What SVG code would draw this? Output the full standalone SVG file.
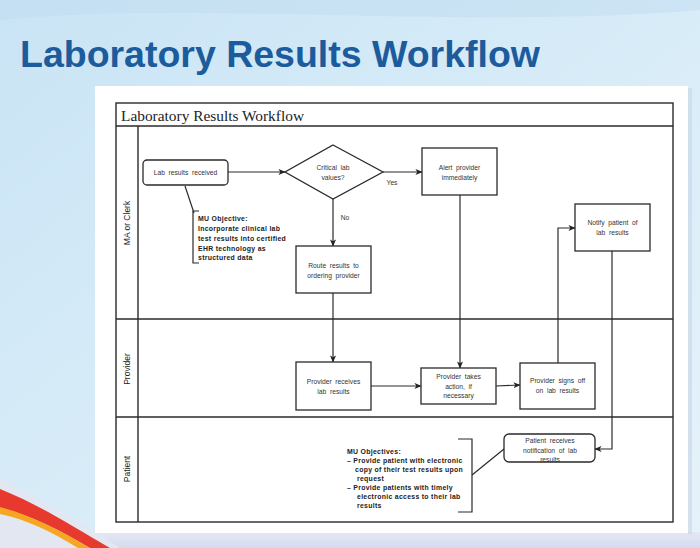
<svg xmlns="http://www.w3.org/2000/svg" width="700" height="548" viewBox="0 0 700 548">
<defs>
<linearGradient id="bg" x1="0" y1="0" x2="1" y2="1">
<stop offset="0" stop-color="#c9e4f5"/>
<stop offset="0.5" stop-color="#d8ecf8"/>
<stop offset="1" stop-color="#e6f2fa"/>
</linearGradient>
<linearGradient id="bot" x1="0" y1="0" x2="0" y2="1">
<stop offset="0" stop-color="#e4e8f4"/>
<stop offset="1" stop-color="#d5dbee"/>
</linearGradient>
<marker id="ah" viewBox="0 0 8 8" refX="7.5" refY="4" markerWidth="7" markerHeight="7" markerUnits="userSpaceOnUse" orient="auto">
<path d="M0,0.5 L8,4 L0,7.5 L2.2,4 z" fill="#222"/>
</marker>
<style>
.box{fill:#fff;stroke:#2a2a2a;stroke-width:1.3}
.ln{fill:none;stroke:#2a2a2a;stroke-width:1.2}
.frame{fill:none;stroke:#2a2a2a;stroke-width:1.4}
.t{font-family:"Liberation Sans",Arial,sans-serif;font-size:6.7px;fill:#333;text-anchor:middle;word-spacing:1.8px}
.mu{font-family:"Liberation Sans",Arial,sans-serif;font-size:6.9px;font-weight:bold;fill:#222;letter-spacing:0.3px}
.lane{font-family:"Liberation Sans",Arial,sans-serif;font-size:8.5px;fill:#222;text-anchor:middle}
</style>
</defs>
<rect width="700" height="548" fill="url(#bg)"/>
<path d="M0,20 C200,0 450,30 700,10 L700,0 L0,0 z" fill="#bfdcf0" opacity="0.5"/>
<rect x="0" y="532" width="700" height="16" fill="url(#bot)"/>
<path d="M0,478 C40,500 80,520 120,548 L0,548 z" fill="#e3e7f2"/>
<path d="M0,489 C40,505 70,525 110,548 L90,548 C60,530 30,515 0,508 z" fill="#e8392f"/>
<path d="M0,507 C30,515 60,530 90,548 L78,548 C52,532 28,520 0,514 z" fill="#f5a623"/>
<text x="20" y="67" font-family="'Liberation Sans',Arial,sans-serif" font-weight="bold" font-size="37.5" fill="#1c5b9c" textLength="520" lengthAdjust="spacingAndGlyphs">Laboratory Results Workflow</text>
<rect x="688" y="88" width="4" height="446" fill="#c8d6e6" opacity="0.6"/>
<rect x="95" y="86" width="593" height="447" fill="#fff"/>
<g id="frame">
<rect class="frame" x="116" y="103" width="557" height="419"/>
<line class="frame" x1="116" y1="126" x2="673" y2="126"/>
<line class="frame" x1="138" y1="126" x2="138" y2="522"/>
<line class="frame" x1="116" y1="319" x2="673" y2="319"/>
<line class="frame" x1="116" y1="417" x2="673" y2="417"/>
<text x="121" y="121" font-family="'Liberation Serif','Times New Roman',serif" font-size="15.5" fill="#222" textLength="183" lengthAdjust="spacingAndGlyphs">Laboratory Results Workflow</text>
<text class="lane" transform="translate(130,223) rotate(-90)">MA or Clerk</text>
<text class="lane" transform="translate(130,369) rotate(-90)">Provider</text>
<text class="lane" transform="translate(130,469) rotate(-90)">Patient</text>
</g>
<g id="connectors">
<line class="ln" x1="228" y1="172" x2="285" y2="172" marker-end="url(#ah)"/>
<line class="ln" x1="383" y1="172" x2="422" y2="172" marker-end="url(#ah)"/>
<line class="ln" x1="333" y1="199" x2="333" y2="246" marker-end="url(#ah)"/>
<line class="ln" x1="333" y1="293" x2="333" y2="362" marker-end="url(#ah)"/>
<line class="ln" x1="460" y1="195" x2="460" y2="368" marker-end="url(#ah)"/>
<line class="ln" x1="371" y1="386" x2="421" y2="386" marker-end="url(#ah)"/>
<line class="ln" x1="496" y1="386" x2="520" y2="385" marker-end="url(#ah)"/>
<polyline class="ln" points="558,363 558,228 575,228" marker-end="url(#ah)"/>
<polyline class="ln" points="612,251 612,449 595,449" marker-end="url(#ah)"/>
<line class="ln" x1="185" y1="186" x2="194" y2="213"/>
<line class="ln" x1="472" y1="475" x2="504" y2="449"/>
<text class="t" x="392" y="185">Yes</text>
<text class="t" x="345" y="220">No</text>
</g>
<g id="lab-results-received">
<rect class="box" x="143" y="160" width="85" height="25" rx="4"/>
<text class="t" x="185.5" y="174.5">Lab results received</text>
</g>
<g id="critical-lab-values">
<polygon class="box" points="333,145 383,172 333,199 285,172"/>
<text class="t" x="333" y="170">Critical lab</text>
<text class="t" x="333" y="180">values?</text>
</g>
<g id="alert-provider">
<rect class="box" x="422" y="148" width="75" height="47"/>
<text class="t" x="459.5" y="170">Alert provider</text>
<text class="t" x="459.5" y="180">immediately</text>
</g>
<g id="route-results">
<rect class="box" x="296" y="246" width="75" height="47"/>
<text class="t" x="333.5" y="268">Route results to</text>
<text class="t" x="333.5" y="278">ordering provider</text>
</g>
<g id="notify-patient">
<rect class="box" x="575" y="204" width="75" height="47"/>
<text class="t" x="612.5" y="225">Notify patient of</text>
<text class="t" x="612.5" y="235">lab results</text>
</g>
<g id="provider-receives">
<rect class="box" x="296" y="362" width="75" height="48"/>
<text class="t" x="333.5" y="384">Provider receives</text>
<text class="t" x="333.5" y="394">lab results</text>
</g>
<g id="provider-takes-action">
<rect class="box" x="421" y="368" width="75" height="36"/>
<text class="t" x="458.5" y="379">Provider takes</text>
<text class="t" x="458.5" y="388.5">action, if</text>
<text class="t" x="458.5" y="398">necessary</text>
</g>
<g id="provider-signs-off">
<rect class="box" x="520" y="363" width="75" height="46"/>
<text class="t" x="557.5" y="383">Provider signs off</text>
<text class="t" x="557.5" y="393">on lab results</text>
</g>
<g id="patient-receives">
<rect class="box" x="504" y="434" width="91" height="28" rx="5"/>
<text class="t" x="550" y="443">Patient receives</text>
<text class="t" x="550" y="453">notification of lab</text>
<text class="t" x="550" y="462">results</text>
</g>
<g id="mu-objective-1">
<polyline class="ln" points="199,211 193,211 193,263 199,263"/>
<text class="mu" x="198" y="221">MU Objective:</text>
<text class="mu" x="198" y="231">Incorporate clinical lab</text>
<text class="mu" x="198" y="241">test results into certified</text>
<text class="mu" x="198" y="251">EHR technology as</text>
<text class="mu" x="198" y="260">structured  data</text>
</g>
<g id="mu-objectives-2">
<polyline class="ln" points="458,439 472,439 472,512 458,512"/>
<text class="mu" x="347" y="454">MU Objectives:</text>
<text class="mu" x="347" y="463">– Provide patient with electronic</text>
<text class="mu" x="355" y="471.5">copy of their test results upon</text>
<text class="mu" x="357" y="480.5">request</text>
<text class="mu" x="347" y="489.5">– Provide patients with timely</text>
<text class="mu" x="357" y="498.5">electronic access  to their lab</text>
<text class="mu" x="357" y="507.5">results</text>
</g>
</svg>
